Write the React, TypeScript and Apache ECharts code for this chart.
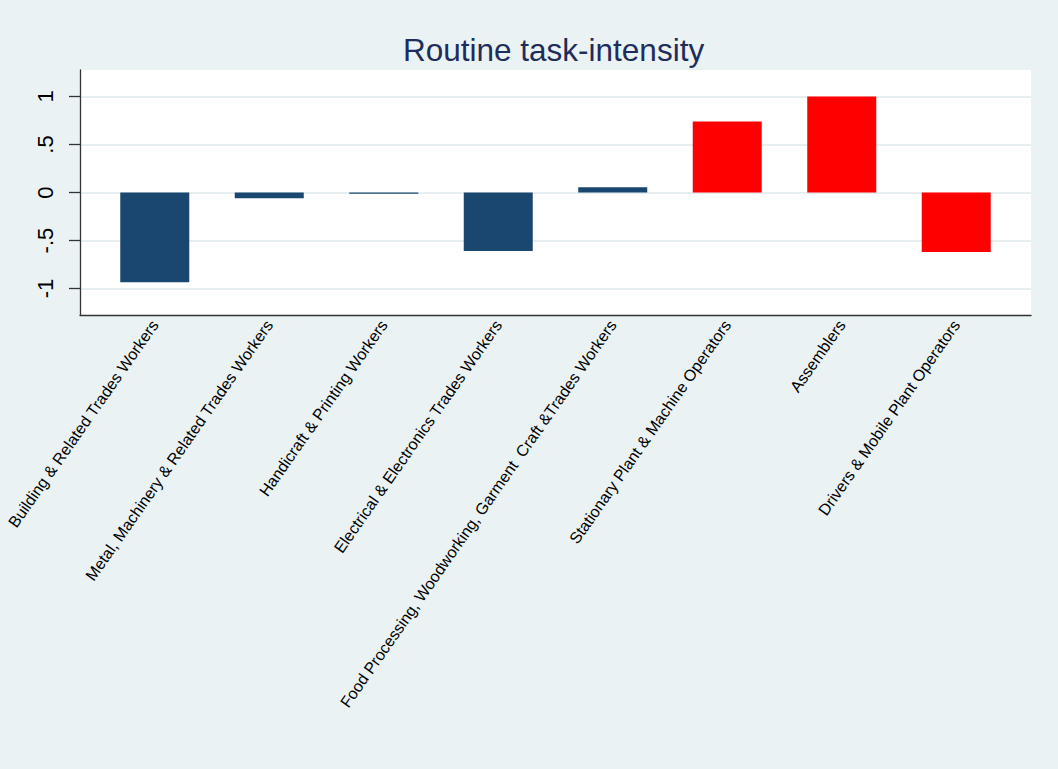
import React, { useEffect, useRef } from "react";
import * as echarts from "echarts";

const categories = [
  "Building & Related Trades Workers",
  "Metal, Machinery & Related Trades Workers",
  "Handicraft & Printing Workers",
  "Electrical & Electronics Trades Workers",
  "Food Processing, Woodworking, Garment  Craft &Trades Workers",
  "Stationary Plant & Machine Operators",
  "Assemblers",
  "Drivers & Mobile Plant Operators",
];
const values = [-0.934, -0.06, -0.012, -0.61, 0.055, 0.74, 1.0, -0.62];
const groups = ["trades", "trades", "trades", "trades", "trades", "operators", "operators", "operators"];
const yTicks = [-1, -0.5, 0, 0.5, 1];
const title = "Routine task-intensity";

const groupColors: Record<string, string> = { trades: "#1a476f", operators: "#ff0000" };

export default function App() {
  const ref = useRef<HTMLDivElement>(null);
  useEffect(() => {
    document.body.style.margin = "0";
    const chart = echarts.init(ref.current!, null, { renderer: "svg" });
    const font = "'Liberation Sans', Arial, sans-serif";
    chart.setOption({
      animation: false,
      backgroundColor: "#eaf2f3",
      title: {
        text: title,
        left: 398,
        top: 29,
        textStyle: { fontFamily: font, fontSize: 31.5, fontWeight: "normal", color: "#1e2d5a" },
      },
      grid: {
        left: 80,
        right: 27,
        top: 70,
        bottom: 454,
        show: true,
        backgroundColor: "#ffffff",
        borderWidth: 0,
      },
      xAxis: {
        type: "value",
        min: -0.653,
        max: 7.653,
        axisLine: { show: true, onZero: false, lineStyle: { color: "#333333", width: 1.3 } },
        axisTick: { show: false },
        splitLine: { show: false },
        axisLabel: {
          customValues: categories.map((_, i) => i),
          formatter: (v: number) => categories[Math.round(v)] ?? "",
          rotate: 55,
          margin: 7,
          fontFamily: font,
          fontSize: 16,
          color: "#000000",
          showMinLabel: true,
          showMaxLabel: true,
        },
      },
      yAxis: {
        type: "value",
        min: -1.275,
        max: 1.275,
        axisLine: { show: true, onZero: false, lineStyle: { color: "#333333", width: 1.3 } },
        axisTick: { show: true, length: 11, customValues: yTicks, lineStyle: { color: "#333333", width: 1.3 } },
        splitLine: { show: true, lineStyle: { color: "#e6eef1", width: 2 } },
        axisLabel: {
          customValues: yTicks,
          formatter: (v: number) => String(v).replace("0.", "."),
          rotate: 90,
          margin: 24,
          fontFamily: font,
          fontSize: 22,
          color: "#000000",
        },
      },
      series: [
        {
          type: "bar",
          barWidth: 69,
          data: values.map((v, i) => ({
            value: [i, v],
            itemStyle: { color: groupColors[groups[i]] },
          })),
        },
      ],
    });
    return () => chart.dispose();
  }, []);
  return <div ref={ref} style={{ width: 1058, height: 769 }} />;
}
